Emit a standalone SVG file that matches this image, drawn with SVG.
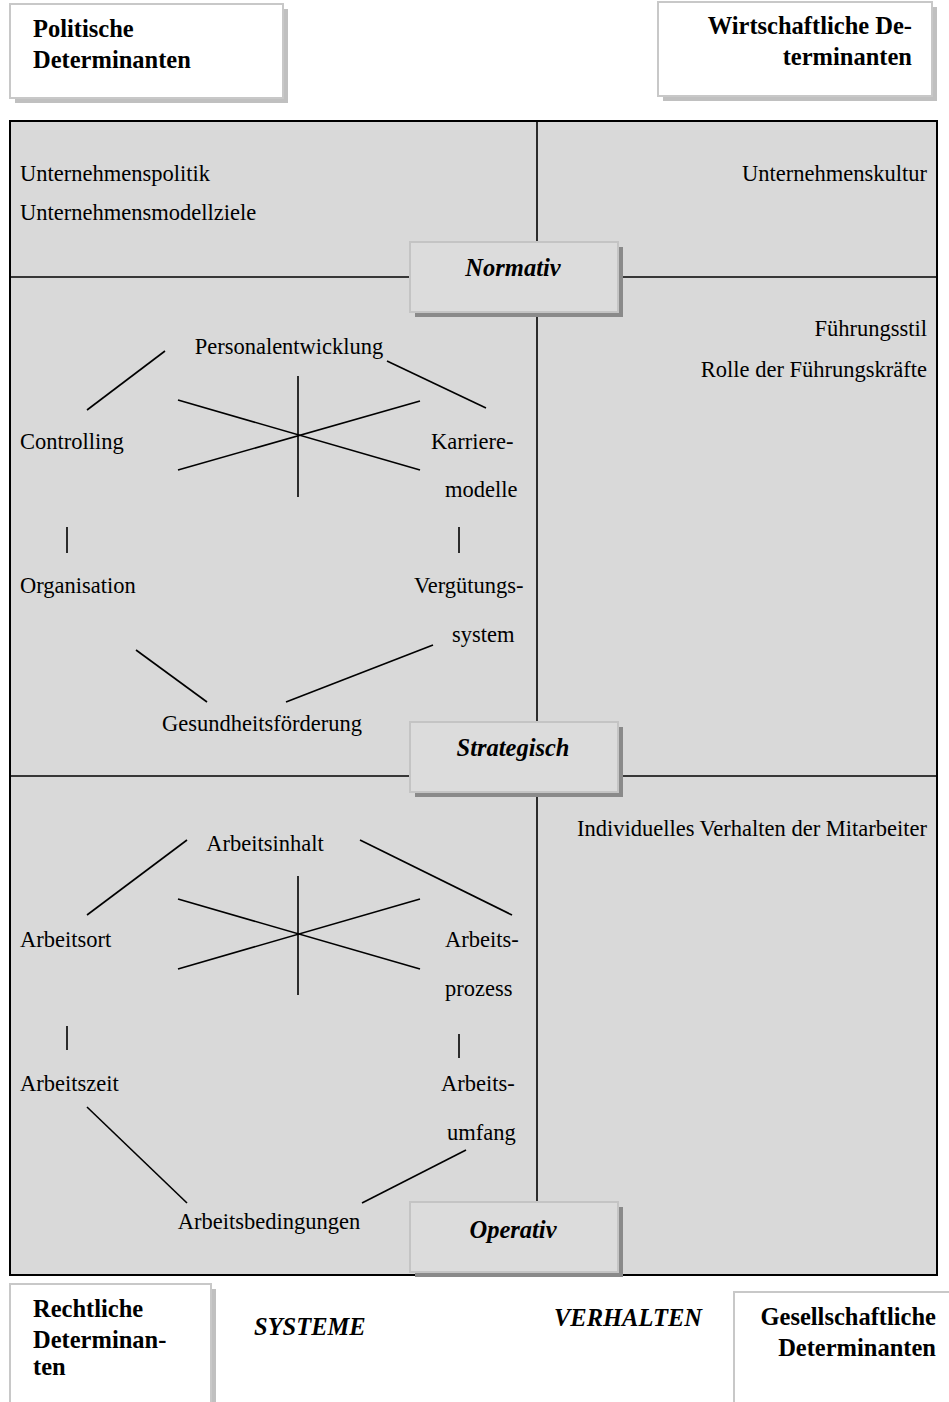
<svg xmlns="http://www.w3.org/2000/svg" width="949" height="1402" viewBox="0 0 949 1402">
<style>
text{font-family:"Liberation Serif","Times New Roman",serif;fill:#000}
.r{font-size:22.5px}
.b{font-size:24.5px;font-weight:bold}
.bi{font-size:24.5px;font-weight:bold;font-style:italic}
.end{text-anchor:end}
.mid{text-anchor:middle}
.ln{stroke:#000;stroke-width:1.6;fill:none}
.cb{fill:#fff;stroke:#c8c8c8;stroke-width:2}
.cs{fill:#c0c0c0}
.lb{fill:#dcdcdc;stroke:#c4c4c4;stroke-width:2}
.ls{fill:#8a8a8a}
</style>
<rect id="frame" x="10" y="121" width="927" height="1154" fill="#d9d9d9" stroke="#000" stroke-width="2"/>
<g id="connectors">
<line class="ln" x1="10" y1="277" x2="937" y2="277"/>
<line class="ln" x1="10" y1="776" x2="937" y2="776"/>
<line class="ln" x1="537" y1="121" x2="537" y2="1275"/>
<line class="ln" x1="165" y1="351" x2="87" y2="410"/>
<line class="ln" x1="387" y1="361" x2="486" y2="408"/>
<line class="ln" x1="298" y1="376" x2="298" y2="497"/>
<line class="ln" x1="178" y1="400" x2="420" y2="470"/>
<line class="ln" x1="178" y1="470" x2="420" y2="401"/>
<line class="ln" x1="67" y1="527" x2="67" y2="553"/>
<line class="ln" x1="459" y1="527" x2="459" y2="553"/>
<line class="ln" x1="136" y1="650" x2="207" y2="702"/>
<line class="ln" x1="286" y1="702" x2="433" y2="645"/>
<line class="ln" x1="187" y1="840" x2="87" y2="915"/>
<line class="ln" x1="360" y1="840" x2="512" y2="915"/>
<line class="ln" x1="298" y1="876" x2="298" y2="995"/>
<line class="ln" x1="178" y1="899" x2="420" y2="969"/>
<line class="ln" x1="178" y1="969" x2="420" y2="899"/>
<line class="ln" x1="67" y1="1026" x2="67" y2="1050"/>
<line class="ln" x1="459" y1="1034" x2="459" y2="1058"/>
<line class="ln" x1="87" y1="1107" x2="187" y2="1203"/>
<line class="ln" x1="362" y1="1203" x2="466" y2="1150"/>
</g>
<g id="politische">
<rect class="cs" x="15" y="9" width="273" height="94"/>
<rect class="cb" x="10" y="4" width="273" height="94"/>
<text class="b" x="33" y="37">Politische</text>
<text class="b" x="33" y="68">Determinanten</text>
</g>
<g id="wirtschaftliche">
<rect class="cs" x="663" y="7" width="274" height="94"/>
<rect class="cb" x="658" y="2" width="274" height="94"/>
<text class="b end" x="912" y="34">Wirtschaftliche De-</text>
<text class="b end" x="912" y="65">terminanten</text>
</g>
<g id="rechtliche">
<rect class="cs" x="15" y="1289" width="201" height="130"/>
<rect class="cb" x="10" y="1284" width="201" height="130"/>
<text class="b" x="33" y="1317">Rechtliche</text>
<text class="b" x="33" y="1348">Determinan-</text>
<text class="b" x="33" y="1375">ten</text>
</g>
<g id="gesellschaftliche">
<rect class="cb" x="734" y="1292" width="240" height="130"/>
<text class="b end" x="936" y="1325">Gesellschaftliche</text>
<text class="b end" x="936" y="1356">Determinanten</text>
</g>
<g id="normativ">
<rect class="ls" x="415" y="247" width="208" height="70"/>
<rect class="lb" x="410" y="242" width="208" height="70"/>
<text class="bi mid" x="513" y="276">Normativ</text>
</g>
<g id="strategisch">
<rect class="ls" x="415" y="727" width="208" height="70"/>
<rect class="lb" x="410" y="722" width="208" height="70"/>
<text class="bi mid" x="513" y="756">Strategisch</text>
</g>
<g id="operativ">
<rect class="ls" x="415" y="1207" width="208" height="70"/>
<rect class="lb" x="410" y="1202" width="208" height="70"/>
<text class="bi mid" x="513" y="1238">Operativ</text>
</g>
<g id="normativ-texte">
<text class="r" x="20" y="181">Unternehmenspolitik</text>
<text class="r" x="20" y="220">Unternehmensmodellziele</text>
<text class="r end" x="927" y="181">Unternehmenskultur</text>
</g>
<g id="strategisch-texte">
<text class="r end" x="927" y="336">Führungsstil</text>
<text class="r end" x="927" y="377">Rolle der Führungskräfte</text>
<text class="r mid" x="289" y="354">Personalentwicklung</text>
<text class="r" x="20" y="449">Controlling</text>
<text class="r" x="431" y="449">Karriere-</text>
<text class="r" x="445" y="497">modelle</text>
<text class="r" x="20" y="593">Organisation</text>
<text class="r" x="414" y="593">Vergütungs-</text>
<text class="r" x="452" y="642">system</text>
<text class="r mid" x="262" y="731">Gesundheitsförderung</text>
</g>
<g id="operativ-texte">
<text class="r end" x="927" y="836">Individuelles Verhalten der Mitarbeiter</text>
<text class="r mid" x="265" y="851">Arbeitsinhalt</text>
<text class="r" x="20" y="947">Arbeitsort</text>
<text class="r" x="445" y="947">Arbeits-</text>
<text class="r" x="445" y="996">prozess</text>
<text class="r" x="20" y="1091">Arbeitszeit</text>
<text class="r" x="441" y="1091">Arbeits-</text>
<text class="r" x="447" y="1140">umfang</text>
<text class="r mid" x="269" y="1229">Arbeitsbedingungen</text>
</g>
<g id="achsen">
<text class="bi" x="254" y="1335">SYSTEME</text>
<text class="bi" x="554" y="1326">VERHALTEN</text>
</g>
</svg>
